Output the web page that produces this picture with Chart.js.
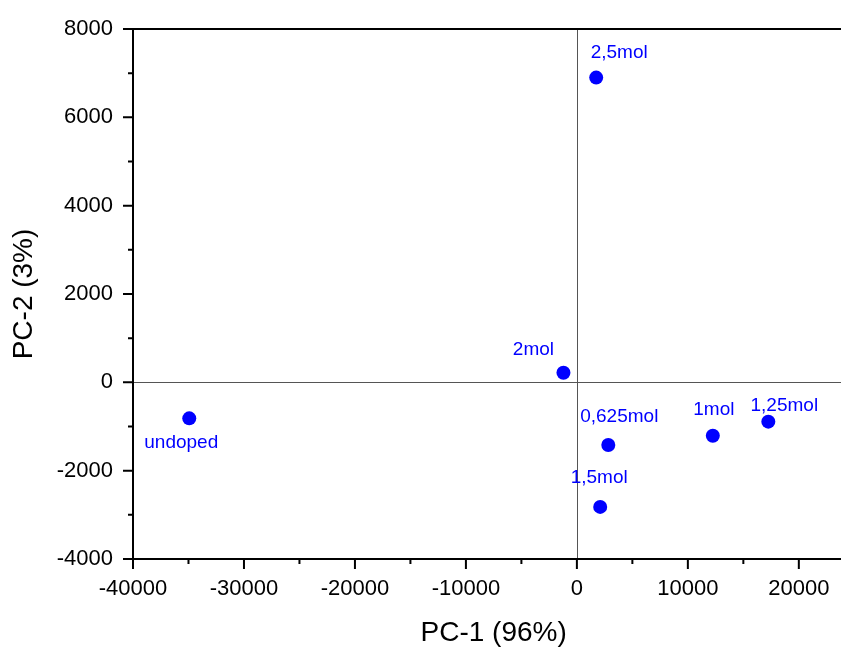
<!DOCTYPE html>
<html>
<head>
<meta charset="utf-8">
<script src="https://cdn.jsdelivr.net/npm/chart.js@4"></script>
<style>
  html, body { margin: 0; padding: 0; overflow: hidden; background: #fff; }
  #box { width: 841px; height: 648px; }
</style>
</head>
<body>
<div id="box"><canvas id="grafico" width="841" height="648"></canvas></div>
<script>
// ===============================
// DADOS
// ===============================
const amostras = ["undoped", "0,625mol", "1mol", "1,25mol", "1,5mol", "2mol", "2,5mol"];
const pc1 = [-34930, 2830, 12250, 17250, 2100, -1210, 1740];
const pc2 = [-815, -1420, -1210, -890, -2820, 217, 6900];

const ticksX = [-40000, -30000, -20000, -10000, 0, 10000, 20000];
const menoresX = [-35000, -25000, -15000, -5000, 5000, 15000];
const ticksY = [-4000, -2000, 0, 2000, 4000, 6000, 8000];
const menoresY = [-3000, -1000, 1000, 3000, 5000, 7000];

const tituloX = "PC-1 (96%)";
const tituloY = "PC-2 (3%)";

// deslocamento dos rotulos (px) em relacao ao ponto
const deslocRotulo = [[-8, 24], [11, -28], [1, -26], [16, -16], [-1, -29], [-30, -23], [23, -25]];

const FONTE = "'Liberation Sans', Arial, sans-serif";
const AZUL = "#0000ff";

// ===============================
// PLUGIN: moldura, linhas zero, ticks, rotulos
// ===============================
const moldura = {
  id: "moldura",
  beforeDatasetsDraw(chart) {
    const { ctx, chartArea: a, scales } = chart;
    const x0 = scales.x.getPixelForValue(0);
    const y0 = scales.y.getPixelForValue(0);
    ctx.save();
    ctx.strokeStyle = "#555";
    ctx.lineWidth = 1;
    ctx.beginPath();
    ctx.moveTo(Math.round(x0) + 0.5, a.top);
    ctx.lineTo(Math.round(x0) + 0.5, a.bottom);
    ctx.moveTo(a.left, Math.round(y0) + 0.5);
    ctx.lineTo(a.right, Math.round(y0) + 0.5);
    ctx.stroke();
    ctx.restore();
  },
  afterDatasetsDraw(chart) {
    const { ctx, chartArea: a, scales } = chart;
    ctx.save();
    ctx.strokeStyle = "#000";
    ctx.lineWidth = 2;
    // a borda direita fica fora da imagem
    ctx.beginPath();
    ctx.moveTo(a.right, a.top);
    ctx.lineTo(a.left, a.top);
    ctx.lineTo(a.left, a.bottom);
    ctx.lineTo(a.right, a.bottom);
    ctx.stroke();

    ctx.beginPath();
    ticksX.forEach(v => {
      const p = scales.x.getPixelForValue(v);
      ctx.moveTo(p, a.bottom); ctx.lineTo(p, a.bottom + 10);
    });
    menoresX.forEach(v => {
      const p = scales.x.getPixelForValue(v);
      ctx.moveTo(p, a.bottom); ctx.lineTo(p, a.bottom + 5);
    });
    ticksY.forEach(v => {
      const p = scales.y.getPixelForValue(v);
      ctx.moveTo(a.left, p); ctx.lineTo(a.left - 10, p);
    });
    menoresY.forEach(v => {
      const p = scales.y.getPixelForValue(v);
      ctx.moveTo(a.left, p); ctx.lineTo(a.left - 5, p);
    });
    ctx.stroke();

    // titulo do eixo x (centrado na moldura original, que vai ate 25000)
    ctx.fillStyle = "#000";
    ctx.font = "28px " + FONTE;
    ctx.textAlign = "center";
    ctx.textBaseline = "middle";
    ctx.fillText(tituloX, scales.x.getPixelForValue(-7500), 633);

    // rotulos dos pontos
    const meta = chart.getDatasetMeta(0);
    ctx.fillStyle = AZUL;
    ctx.font = "19px " + FONTE;
    meta.data.forEach((pt, i) => {
      const [dx, dy] = deslocRotulo[i];
      ctx.fillText(amostras[i], pt.x + dx, pt.y + dy);
    });
    ctx.restore();
  }
};

// ===============================
// GRAFICO
// ===============================
const ctx = document.getElementById("grafico").getContext("2d");

new Chart(ctx, {
  type: "scatter",
  data: {
    labels: amostras,
    datasets: [{
      data: pc1.map((x, i) => ({ x, y: pc2[i] })),
      backgroundColor: AZUL,
      borderWidth: 0,
      pointRadius: 7,
      pointHoverRadius: 7
    }]
  },
  options: {
    responsive: false,
    animation: false,
    events: [],
    layout: { autoPadding: false, padding: { top: 29, right: 0, left: 0, bottom: 0 } },
    plugins: {
      legend: { display: false },
      tooltip: { enabled: false }
    },
    scales: {
      x: {
        type: "linear",
        min: -40000,
        max: 23800,
        afterBuildTicks: s => { s.ticks = ticksX.map(v => ({ value: v })); },
        afterFit: s => {
          s.height = 89;
          s.paddingLeft = 0;
          s.paddingRight = 0;
        },
        grid: { display: false, drawTicks: false },
        border: { display: false },
        ticks: {
          padding: 17,
          color: "#000",
          font: { family: FONTE, size: 22 },
          maxRotation: 0,
          autoSkip: false,
          callback: v => String(v)
        },
        title: { display: false }
      },
      y: {
        type: "linear",
        min: -4000,
        max: 8000,
        afterBuildTicks: s => { s.ticks = ticksY.map(v => ({ value: v })); },
        afterFit: s => {
          s.width = 133;
          s.paddingTop = 0;
          s.paddingBottom = 0;
        },
        grid: { display: false, drawTicks: false },
        border: { display: false },
        ticks: {
          padding: 20,
          color: "#000",
          font: { family: FONTE, size: 22 },
          autoSkip: false,
          callback: v => String(v)
        },
        title: {
          display: true,
          text: tituloY,
          color: "#000",
          font: { family: FONTE, size: 28, lineHeight: 1 },
          padding: { top: 10, bottom: 0 }
        }
      }
    }
  },
  plugins: [moldura]
});
</script>
</body>
</html>
